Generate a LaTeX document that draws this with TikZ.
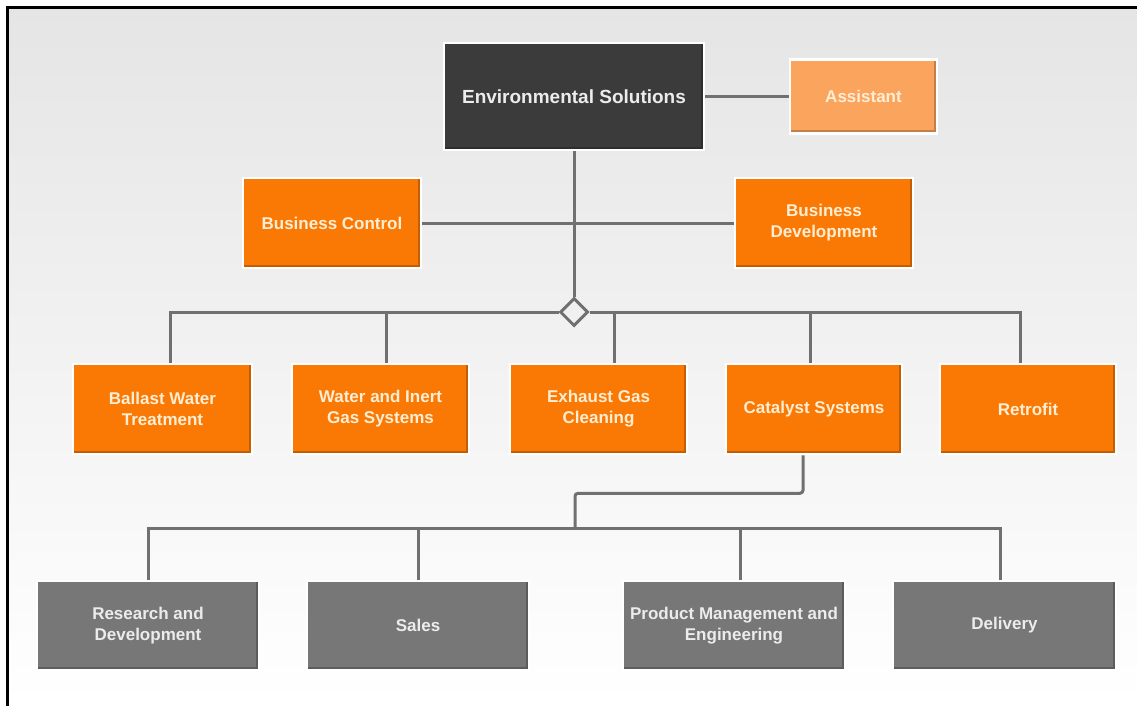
\documentclass[tikz,border=0pt]{standalone}
\usepackage{fontspec}
\setmainfont{Liberation Sans}
\usetikzlibrary{shapes.geometric,calc}

\definecolor{orgbox}{RGB}{250,121,4}
\definecolor{lightorg}{RGB}{250,164,94}
\definecolor{darkbox}{RGB}{59,59,59}
\definecolor{graybox}{RGB}{119,119,119}
\definecolor{linkgray}{RGB}{112,112,112}
\definecolor{creamtext}{RGB}{255,238,212}
\definecolor{paletext}{RGB}{236,236,236}
\definecolor{bgtop}{RGB}{229,229,229}
\definecolor{bgmid}{RGB}{240,240,240}

\tikzset{
  unit/.style={draw=white, line width=2.5pt, align=center, inner sep=0pt,
    font=\bfseries\fontsize{17}{21}\selectfont,
    path picture={
      \fill[black,opacity=0.22] ([yshift=3pt]path picture bounding box.south west) rectangle (path picture bounding box.south east);
      \fill[black,opacity=0.22] ([xshift=-3pt]path picture bounding box.north east) rectangle ([yshift=3pt]path picture bounding box.south east);
    }},
  headunit/.style={unit, fill=darkbox, text=paletext, font=\bfseries\fontsize{19}{23}\selectfont},
  staffunit/.style={unit, fill=lightorg, text=creamtext},
  orgunit/.style={unit, fill=orgbox, text=creamtext},
  subunit/.style={unit, fill=graybox, text=paletext},
  link/.style={draw=linkgray, line width=3pt},
  junction/.style={diamond, draw=linkgray, line width=3pt, fill=bgmid, minimum size=28pt, inner sep=0pt}
}

\begin{document}
\begin{tikzpicture}[x=1pt,y=-1pt]
  \useasboundingbox (0,0) rectangle (1137,706);

  % backdrop and frame
  \shade[top color=bgtop, bottom color=white] (7,8) rectangle (1137,706);
  \draw[black, line width=3pt] (7,706) -- (7,8) -- (1137,8);

  % head and staff units
  \node[headunit, minimum width=260pt, minimum height=107pt] (es) at (574,96.5) {Environmental Solutions};
  \node[staffunit, minimum width=147pt, minimum height=74pt] (asst) at (863.5,96.5) {Assistant};
  \node[orgunit, minimum width=178pt, minimum height=90pt] (bc) at (332,223) {Business Control};
  \node[orgunit, minimum width=178pt, minimum height=90pt] (bd) at (824,223) {Business\\Development};

  % business lines
  \node[orgunit, minimum width=179pt, minimum height=90pt] (b1) at (162.5,409) {Ballast Water\\Treatment};
  \node[orgunit, minimum width=177pt, minimum height=90pt] (b2) at (380.5,409) {Water and Inert\\Gas Systems};
  \node[orgunit, minimum width=177pt, minimum height=90pt] (b3) at (598.5,409) {Exhaust Gas\\Cleaning};
  \node[orgunit, minimum width=176pt, minimum height=90pt] (b4) at (814,409) {Catalyst Systems};
  \node[orgunit, minimum width=176pt, minimum height=90pt] (b5) at (1028,409) {Retrofit};

  % catalyst systems departments
  \node[subunit, minimum width=222pt, minimum height=89pt] (r1) at (148,625.5) {Research and\\Development};
  \node[subunit, minimum width=222pt, minimum height=89pt] (r2) at (418,625.5) {Sales};
  \node[subunit, minimum width=222pt, minimum height=89pt] (r3) at (734,625.5) {Product Management and\\Engineering};
  \node[subunit, minimum width=223pt, minimum height=89pt] (r4) at (1004.5,625.5) {Delivery};

  % connectors
  \draw[link] (es) -- (asst);
  \draw[link] (bc) -- (bd);
  \node[junction] (dia) at (574,312) {};
  \draw[link] (es.south) -- (dia.north);
  \draw[link] ([xshift=7.5pt]b1.north) |- (dia.west);
  \draw[link] ([xshift=5.5pt]b2.north) |- (dia.west);
  \draw[link] ([xshift=15.5pt]b3.north) |- (dia.east);
  \draw[link] ([xshift=-4pt]b4.north) |- (dia.east);
  \draw[link] ([xshift=-8pt]b5.north) |- (dia.east);

  \coordinate (hub) at (575,528);
  \draw[link, rounded corners=3pt] ([xshift=-11pt]b4.south) -- ++(0,38) -| (hub);
  \draw[link] (r1.north) |- (hub);
  \draw[link] (r2.north) |- (hub);
  \draw[link] ([xshift=6pt]r3.north) |- (hub);
  \draw[link] ([xshift=-4.5pt]r4.north) |- (hub);
\end{tikzpicture}
\end{document}
